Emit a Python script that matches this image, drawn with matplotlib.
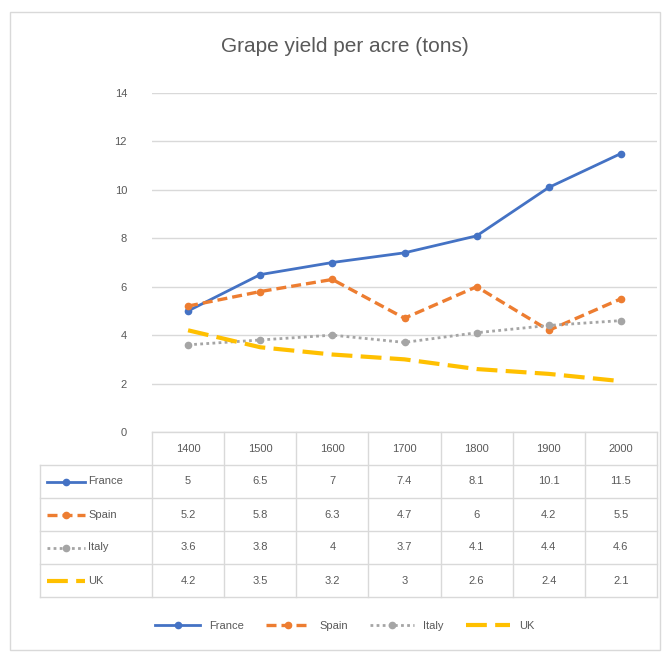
import matplotlib
matplotlib.use("Agg")
import matplotlib.pyplot as plt
from matplotlib.patches import Rectangle
from matplotlib.lines import Line2D

plt.rcParams['font.family'] = ['Liberation Sans', 'DejaVu Sans']

# data
years = ['1400', '1500', '1600', '1700', '1800', '1900', '2000']
france = [5, 6.5, 7, 7.4, 8.1, 10.1, 11.5]
spain = [5.2, 5.8, 6.3, 4.7, 6, 4.2, 5.5]
italy = [3.6, 3.8, 4, 3.7, 4.1, 4.4, 4.6]
uk = [4.2, 3.5, 3.2, 3, 2.6, 2.4, 2.1]
names = ['France', 'Spain', 'Italy', 'UK']
series = [france, spain, italy, uk]

colors = ['#4472C4', '#ED7D31', '#A5A5A5', '#FFC000']
styles = ['-', (0, (3, 1.5)), (0, (1, 1.2)), (0, (5, 2))]
markers = ['o', 'o', 'o', None]
widths = [2, 2.4, 2, 3]

W, H = 667, 657
fig = plt.figure(figsize=(W / 100, H / 100), dpi=100)
txt = '#595959'

# outer chart border
fig.patches.append(Rectangle((10 / W, 1 - 650 / H), 650 / W, 638 / H,
                             transform=fig.transFigure, fill=False,
                             edgecolor='#D9D9D9', lw=1))

fig.text(345 / W, 1 - 46 / H, 'Grape yield per acre (tons)', ha='center',
         va='center', fontsize=15, color=txt)

ax = fig.add_axes([152 / W, 1 - 432 / H, 505 / W, 339 / H])
x = list(range(len(years)))
lines = []
for vals, name, c, ls, m, lw in zip(series, names, colors, styles, markers, widths):
    ln, = ax.plot(x, vals, color=c, linestyle=ls, lw=lw, marker=m,
                  markersize=4.5, label=name)
    lines.append(ln)
ax.set_xlim(-0.5, 6.5)
ax.set_ylim(0, 14)
ax.set_yticks(range(0, 15, 2))
ax.set_xticks([])
ax.grid(axis='y', color='#D9D9D9', lw=1)
ax.set_axisbelow(True)
for s in ax.spines.values():
    s.set_visible(False)
ax.tick_params(axis='y', length=0, labelsize=8, labelcolor=txt, pad=18)

# data table
tax = fig.add_axes([152 / W, 1 - 597 / H, 505 / W, 165 / H])
tax.set_xlim(-0.5, 6.5)
tax.set_ylim(5, 0)
tax.axis('off')
xl = -0.5 - 112 / 72.14
lc = '#D9D9D9'
tax.plot([-0.5, 6.5], [0, 0], color=lc, lw=1, clip_on=False)
for r in range(1, 6):
    tax.plot([xl, 6.5], [r, r], color=lc, lw=1, clip_on=False)
for i in range(8):
    tax.plot([i - 0.5, i - 0.5], [0, 5], color=lc, lw=1, clip_on=False)
tax.plot([xl, xl], [1, 5], color=lc, lw=1, clip_on=False)
for i, yr in enumerate(years):
    tax.text(i, 0.5, yr, ha='center', va='center', fontsize=8, color=txt)
for r, (vals, name, c, ls, m, lw) in enumerate(zip(series, names, colors, styles, markers, widths)):
    yy = r + 1.5
    k0, k1 = xl + 0.1, xl + 0.62
    tax.add_line(Line2D([k0, k1], [yy, yy], color=c, linestyle=ls, lw=lw,
                        clip_on=False))
    if m:
        tax.plot([(k0 + k1) / 2], [yy], marker=m, color=c, markersize=4.5,
                 clip_on=False)
    tax.text(k1 + 0.05, yy, name, ha='left', va='center', fontsize=8,
             color=txt, clip_on=False)
    for i, v in enumerate(vals):
        tax.text(i, yy, f'{v:g}', ha='center', va='center', fontsize=8,
                 color=txt)

fig.legend(handles=lines, loc='center', bbox_to_anchor=(345 / W, 1 - 626 / H),
           ncol=4, frameon=False, fontsize=8, labelcolor=txt,
           handlelength=4, columnspacing=2)

fig.savefig('out.png', dpi=100)
